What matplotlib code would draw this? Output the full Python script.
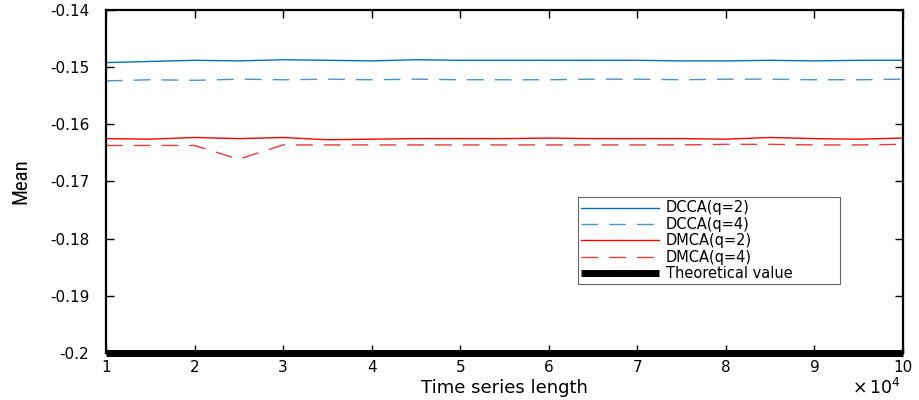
import matplotlib
matplotlib.use("Agg")
import matplotlib.pyplot as plt
from matplotlib import font_manager
import numpy as np

x = [1, 1.5, 2, 2.5, 3, 3.5, 4, 4.5, 5, 5.5, 6, 6.5, 7, 7.5, 8, 8.5, 9, 9.5, 10]
dcca_q2 = [-0.1492, -0.1490, -0.1488, -0.1489, -0.1487, -0.1488, -0.1489, -0.1487, -0.1488, -0.1488,
           -0.1488, -0.1488, -0.1488, -0.1489, -0.1489, -0.1488, -0.1489, -0.1488, -0.1488]
dcca_q4 = [-0.1524, -0.1522, -0.1523, -0.1521, -0.1522, -0.1521, -0.1522, -0.1521, -0.1522, -0.1522,
           -0.1522, -0.1521, -0.1521, -0.1522, -0.1521, -0.1521, -0.1522, -0.1522, -0.1521]
dmca_q2 = [-0.1625, -0.1626, -0.1623, -0.1625, -0.1623, -0.1627, -0.1626, -0.1625, -0.1625, -0.1625,
           -0.1624, -0.1625, -0.1625, -0.1625, -0.1626, -0.1623, -0.1625, -0.1626, -0.1624]
dmca_q4 = [-0.1637, -0.1637, -0.1637, -0.1661, -0.1636, -0.1636, -0.1636, -0.1636, -0.1636, -0.1636,
           -0.1636, -0.1636, -0.1636, -0.1636, -0.1635, -0.1635, -0.1636, -0.1636, -0.1635]
theoretical = -0.2
xticks = [1, 2, 3, 4, 5, 6, 7, 8, 9, 10]
yticks = [-0.2, -0.19, -0.18, -0.17, -0.16, -0.15, -0.14]
yticklabels = ['-0.2', '-0.19', '-0.18', '-0.17', '-0.16', '-0.15', '-0.14']

plt.rcParams['font.family'] = ['DejaVu Sans']
plt.rcParams['mathtext.fontset'] = 'dejavusans'

names = {f.name for f in font_manager.fontManager.ttflist}
narrow = None
for cand in ['Liberation Sans Narrow', 'DejaVu Sans Condensed', 'Roboto Condensed', 'Open Sans Condensed']:
    if cand in names:
        narrow = cand
        break

fig = plt.figure(figsize=(9.19, 4.0), dpi=100)
ax = fig.add_axes([0.1153, 0.1175, 0.8673, 0.8575])

ax.plot(x, dcca_q2, color='#0072BD', lw=1.0, label='DCCA(q=2)')
ax.plot(x, dcca_q4, color='#4a94cc', lw=1.0, dashes=(12, 8), label='DCCA(q=4)')
ax.plot(x, dmca_q2, color='#ff0000', lw=1.0, label='DMCA(q=2)')
ax.plot(x, dmca_q4, color='#f03a3a', lw=1.0, dashes=(12, 8), label='DMCA(q=4)')
ax.plot([x[0], x[-1]], [theoretical, theoretical], color='black', lw=5,
        label='Theoretical value', solid_capstyle='butt', clip_on=False)

ax.set_xlim(1, 10)
ax.set_ylim(-0.2, -0.14)
ax.set_xticks(xticks)
ax.set_xticklabels([str(v) for v in xticks])
ax.set_yticks(yticks)
ax.set_yticklabels(yticklabels)
ax.tick_params(direction='in', top=True, right=True, length=6, width=1, labelsize=11)
ax.tick_params(axis='y', pad=12)
ax.tick_params(axis='x', pad=5)
for s in ax.spines.values():
    s.set_linewidth(1.6)

ax.set_xlabel('Time series length', fontsize=13, labelpad=3)
if narrow:
    ax.set_ylabel('Mean', fontsize=15, family=narrow, labelpad=14)
else:
    ax.set_ylabel('Mean', fontsize=13, labelpad=12)
ax.text(0.997, -0.072, r'$\times\,\mathregular{10^4}$', transform=ax.transAxes, ha='right', va='top', fontsize=12.5)

leg = ax.legend(loc='upper left', bbox_to_anchor=(0.592, 0.455, 0.329, 0.0), mode='expand',
                fontsize=10, frameon=True, fancybox=False,
                edgecolor='#404040', borderpad=0.25, labelspacing=0.1, handlelength=5.6,
                handletextpad=0.5, borderaxespad=0)
leg.get_frame().set_linewidth(0.8)
for t in leg.get_texts():
    t.set_fontsize(10.5)

fig.savefig('out.png', dpi=100)
